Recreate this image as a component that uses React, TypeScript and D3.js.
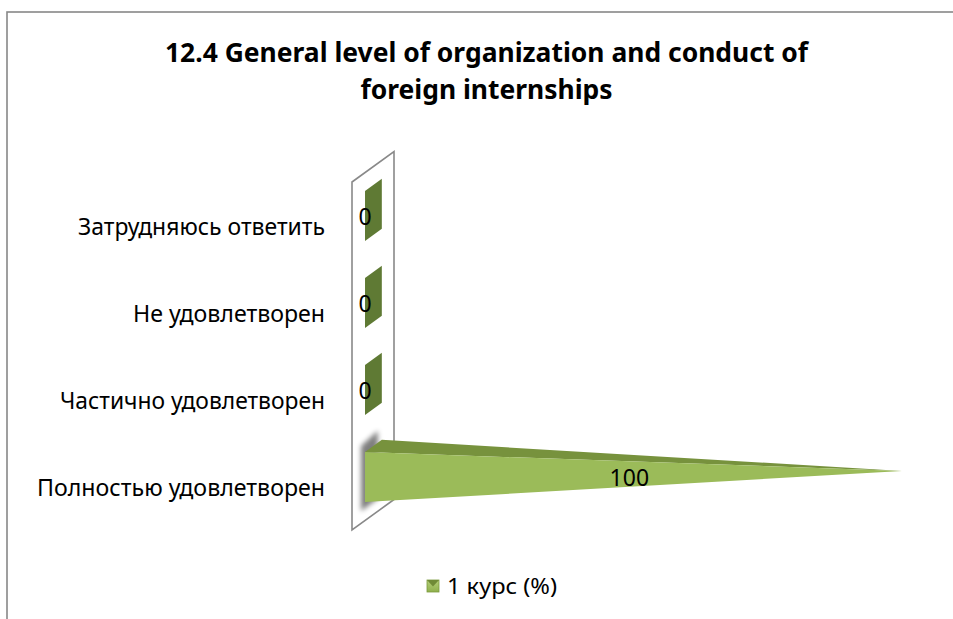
import React from "react";
import * as d3 from "d3";

const titleLines = ["12.4 General level of organization and conduct of", "foreign internships"];
const categories = ["Затрудняюсь ответить", "Не удовлетворен", "Частично удовлетворен", "Полностью удовлетворен"];
const values = [0, 0, 0, 100];
const seriesName = "1 курс (%)";
const labelWidths = [247, 192, 265, 288];

const W = 953;
const H = 619;
const FONT = "'Noto Sans', 'Open Sans', sans-serif";

export default function App() {
  const x = d3.scaleLinear().domain([0, 100]).range([352, 880.6]);
  const band = d3.scaleBand<string>().domain(categories).range([182, 530]).paddingInner(0).paddingOuter(0);
  const barBand = d3.scaleBand<string>().domain(categories).range([182, 530]).paddingInner(0.425).paddingOuter(0.2125);
  const depth = { dx: 42, dy: -30.5 };
  const z0 = 0.31, z1 = 0.71;
  const P = (v: number, y: number, z: number): [number, number] => [x(v) + z * depth.dx, y + z * depth.dy];
  const poly = (pts: [number, number][]) => pts.map((p) => p.join(",")).join(" ");

  const wallTop = band.range()[0];
  const wallBot = band.range()[1];
  const wall = [P(0, wallTop, 0), P(0, wallTop, 1), P(0, wallBot, 1), P(0, wallBot, 0)];

  return (
    <svg width={W} height={H} style={{ position: "absolute", left: 0, top: 0, background: "#fff" }}>
      <defs>
        <filter id="blur" x="-100%" y="-50%" width="300%" height="200%">
          <feGaussianBlur stdDeviation="2.5" />
        </filter>
        <linearGradient id="leg" x1="0" y1="0" x2="0" y2="1">
          <stop offset="0" stopColor="#b5cf7a" />
          <stop offset="1" stopColor="#8fb04c" />
        </linearGradient>
      </defs>
      <rect x={7} y={12} width={W} height={H} fill="#fff" stroke="#888" strokeWidth={1.6} />

      {titleLines.map((t, i) => (
        <text key={i} x={486.5} y={62 + i * 37} textAnchor="middle" fontFamily={FONT} fontWeight="bold" fontSize={27.5}
          textLength={i === 0 ? 643 : 252} lengthAdjust="spacingAndGlyphs" fill="#000">{t}</text>
      ))}

      <polygon points={poly(wall)} fill="#fff" stroke="#898989" strokeWidth={1.6} />

      {categories.map((c, i) => {
        const y0 = barBand(c)!;
        const y1 = y0 + barBand.bandwidth();
        const v = values[i];
        const A = P(0, y0, z0), B = P(0, y1, z0), C = P(0, y1, z1), D = P(0, y0, z1);
        const E = P(v, (y0 + y1) / 2, (z0 + z1) / 2);
        if (v === 0) {
          return <polygon key={c} points={poly([A, B, C, D])} fill="#5f7a34" />;
        }
        const sh = (p: [number, number], dy: number): [number, number] => [p[0] - 4, p[1] + dy];
        return (
          <g key={c}>
            <polygon points={poly([sh(A, -6), sh(B, 9), sh(C, 9), sh(D, -9)])} fill="#000" opacity={0.5} filter="url(#blur)" />
            <polygon points={poly([A, D, E])} fill="#77923d" />
            <polygon points={poly([A, B, E])} fill="#9bbb59" />
          </g>
        );
      })}

      {categories.map((c, i) => {
        const y0 = barBand(c)!;
        const cy = y0 + barBand.bandwidth() / 2;
        const v = values[i];
        const [lx, ly] = P(v / 2, cy, z0);
        return (
          <text key={"l" + c} x={lx} y={ly + 9} textAnchor="middle" fontFamily={FONT} fontSize={23} fill="#000">{v}</text>
        );
      })}

      {categories.map((c, i) => (
        <text key={"c" + c} x={325} y={band(c)! + band.bandwidth() / 2 + 9.5} textAnchor="end" fontFamily={FONT}
          fontSize={23.5} textLength={labelWidths[i]} lengthAdjust="spacingAndGlyphs" fill="#000">{c}</text>
      ))}

      <g>
        <rect x={427} y={580} width={12} height={12} fill="url(#leg)" stroke="#7a9a3c" strokeWidth={0.8} />
        <polygon points="427,580 439,580 433,586.5" fill="#6f8a36" />
        <text x={447} y={594} fontFamily={FONT} fontSize={21} textLength={110} lengthAdjust="spacingAndGlyphs" fill="#000">{seriesName}</text>
      </g>
    </svg>
  );
}
